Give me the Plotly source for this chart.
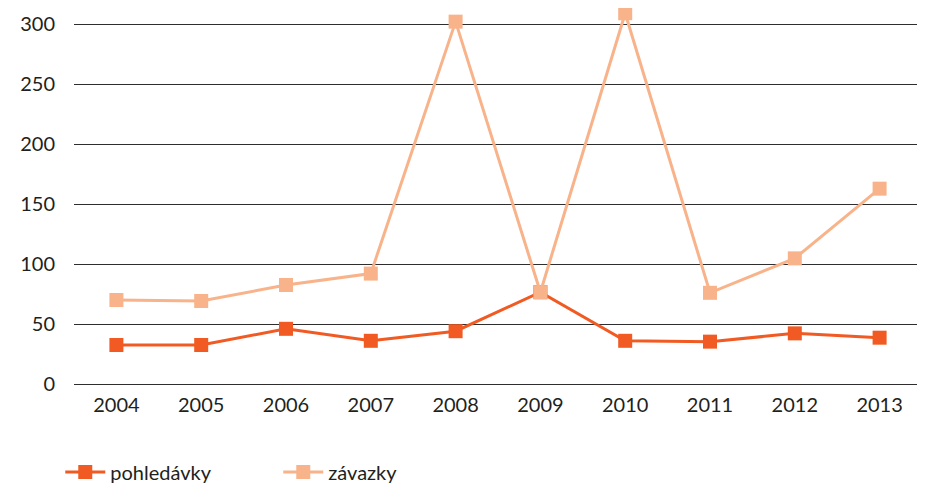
import plotly.graph_objects as go

years = ["2004", "2005", "2006", "2007", "2008", "2009", "2010", "2011", "2012", "2013"]
pohledavky = [32.5, 32.5, 46, 36, 44, 76.5, 36, 35.3, 42.2, 38.6]
zavazky = [70, 69.2, 82.5, 92, 302, 76.5, 309, 76, 104.7, 162.8]
y_ticks = [0, 50, 100, 150, 200, 250, 300]

FONT = "Lato, 'Open Sans', sans-serif"
GRID = "#2E2E2E"

fig = go.Figure()
fig.add_trace(go.Scatter(
    x=years, y=pohledavky, name="pohledávky",
    mode="lines+markers",
    line=dict(color="#F15A22", width=3),
    marker=dict(symbol="square", size=14, color="#F15A22"),
    cliponaxis=False,
))
fig.add_trace(go.Scatter(
    x=years, y=zavazky, name="závazky",
    mode="lines+markers",
    line=dict(color="#F8B38A", width=3),
    marker=dict(symbol="square", size=14, color="#F8B38A"),
    cliponaxis=False,
))

# page body has an 8px margin, so the figure is 8px smaller each way
fig.update_layout(
    width=917, height=479,
    margin=dict(l=66, r=3, t=2, b=103, autoexpand=False),
    paper_bgcolor="white", plot_bgcolor="white",
    font=dict(family=FONT, size=20, color="#231F20"),
    showlegend=True,
    legend=dict(
        orientation="h", xref="container", yref="paper",
        x=0.057, y=-0.235, xanchor="left", yanchor="middle",
        font=dict(size=20), itemwidth=40, entrywidth=163,
        traceorder="normal",
    ),
    xaxis=dict(
        type="category", range=[-0.5, len(years) - 0.5],
        showgrid=False, showline=False, zeroline=False,
        ticks="", tickfont=dict(size=20), ticklabelstandoff=7,
    ),
    yaxis=dict(
        range=[0, 311.7], tickvals=y_ticks, showgrid=True,
        gridcolor=GRID, gridwidth=1.3, zeroline=True,
        zerolinecolor=GRID, zerolinewidth=1.3,
        showline=False, ticks="", ticklabelstandoff=18,
        tickfont=dict(size=20),
    ),
)

fig.write_html("out.html")
